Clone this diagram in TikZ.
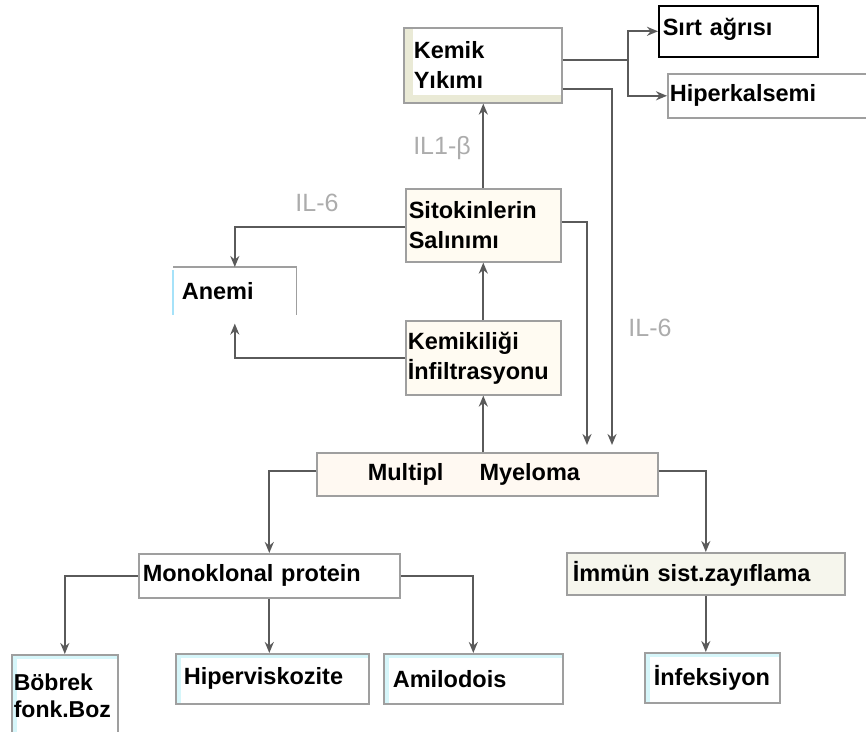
\documentclass[tikz,border=0pt]{standalone}
\usepackage{fontspec}
\setmainfont{Liberation Sans}
\usepackage{xcolor}
\usetikzlibrary{arrows.meta, positioning}
\definecolor{linegray}{HTML}{5A5A5A}
\definecolor{cream}{HTML}{FFFBF2}
\definecolor{khaki}{HTML}{EAEAD6}
\definecolor{palecyan}{HTML}{D6F6FA}
\tikzset{
    box/.style={rectangle, draw=gray!75, line width=1.6pt, fill=white, anchor=north west, align=left, inner ysep=2pt, font=\fontsize{23.5}{30}\selectfont\bfseries},
    creambox/.style={box, fill=cream},
    beigebox/.style={box, path picture={
        \fill[khaki] (path picture bounding box.south west) rectangle ([xshift=9pt]path picture bounding box.north west);
        \fill[khaki] (path picture bounding box.south west) rectangle ([yshift=8pt]path picture bounding box.south east);}},
    cyanbox/.style={box, path picture={
        \fill[palecyan] (path picture bounding box.south west) rectangle ([xshift=5pt]path picture bounding box.north west);
        \fill[palecyan] (path picture bounding box.north west) rectangle ([yshift=-4pt]path picture bounding box.north east);}},
    lbl/.style={text=gray!65, font=\fontsize{25}{28}\selectfont},
    link/.style={draw=linegray, line width=2.2pt},
    arrow/.style={link, -{Stealth[length=11pt,width=9pt]}}
}

\begin{document}
\begin{tikzpicture}[x=1pt, y=-1pt]
    \useasboundingbox (0,0) rectangle (866,731);

    \node (kemik) [beigebox, inner xsep=10pt, text width=138pt, minimum height=75pt] at (403,27) {Kemik\\Yıkımı};
    \node (sirt) [box, draw=black, inner xsep=4pt, text width=151pt, inner ysep=3pt, text height=27pt, text depth=18pt] at (658,5) {Sırt ağrısı};
    \node (hiperk) [box, inner xsep=2pt, text width=198pt, minimum height=44pt] at (667,73) {Hiperkalsemi};
    \node (sito) [creambox, inner xsep=3pt, text width=149pt, minimum height=73pt] at (405,188) {Sitokinlerin\\Salınımı};
    \node (anemi) [box, draw=none, inner xsep=8pt, text width=106pt, minimum height=46pt] at (173,267) {Anemi};
    \node (kemikiligi) [creambox, inner xsep=2pt, text width=151pt, minimum height=74pt] at (405,320) {Kemikiliği\\İnfiltrasyonu};
    \node (myeloma) [creambox, fill=orange!5, inner xsep=51pt, text width=239pt, minimum height=43pt] at (316,452) {Multipl\hspace{36pt}Myeloma};
    \node (mono) [box, inner xsep=4pt, text width=253pt, minimum height=44pt] at (138,553) {Monoklonal protein};
    \node (immun) [creambox, fill=khaki!45, inner xsep=6pt, text width=266pt, minimum height=42pt] at (566,552) {İmmün sist.zayıflama};
    \node (bobrek) [cyanbox, inner xsep=2pt, text width=102pt, minimum height=82pt, font=\fontsize{23}{27}\selectfont\bfseries] at (11,654) {Böbrek\\fonk.Boz};
    \node (hiperv) [cyanbox, inner xsep=8pt, text width=177pt, minimum height=50pt] at (175,653) {Hiperviskozite};
    \node (amilo) [cyanbox, inner xsep=9pt, text width=161pt, minimum height=50pt] at (383,653) {Amilodois};
    \node (infek) [cyanbox, inner xsep=9pt, text width=117pt, minimum height=50pt] at (644,652) {İnfeksiyon};

    \draw[gray!75, line width=1.6pt] (anemi.north west) -- (anemi.north east) -- (anemi.south east);
    \draw[cyan!35, line width=1.6pt] ([yshift=-3pt]anemi.north west) -- (anemi.south west);

    \node (il1) [lbl] at (442,148) {IL1-β};
    \node (il6a) [lbl] at (317,203) {IL-6};
    \node (il6b) [lbl] at (650,328) {IL-6};

    \coordinate (kj) at (628,60);
    \coordinate (kd) at (612,89);
    \coordinate (sd) at (587,222);
    \coordinate (sa) at (236,227);

    \draw[link] (kemik.east |- kj) -- (kj);
    \draw[arrow] (kj) |- (sirt.west);
    \draw[arrow] (kj) |- (hiperk.west);
    \draw[arrow, shorten >=7pt] (kemik.east |- kd) -| (kd |- myeloma.north);
    \draw[arrow, shorten >=7pt] (sito.east |- sd) -| (sd |- myeloma.north);
    \draw[arrow] (sito.north) -- (sito.north |- kemik.south);
    \draw[arrow] (sito.west |- sa) -| (anemi.north);
    \draw[arrow, shorten >=9pt] (kemikiligi.west) -| (anemi.south);
    \draw[arrow] (kemikiligi.north) -- (sito.south);
    \draw[arrow] (kemikiligi.south |- myeloma.north) -- (kemikiligi.south);
    \draw[arrow] ([yshift=3.5pt]myeloma.west) -| (mono.north);
    \draw[arrow] ([yshift=3.5pt]myeloma.east) -| (immun.north);
    \draw[arrow] (mono.west) -| (bobrek.north);
    \draw[arrow] (mono.south) -- (mono.south |- hiperv.north);
    \draw[arrow] (mono.east) -| (amilo.north);
    \draw[arrow] (immun.south) -- (immun.south |- infek.north);
\end{tikzpicture}
\end{document}
